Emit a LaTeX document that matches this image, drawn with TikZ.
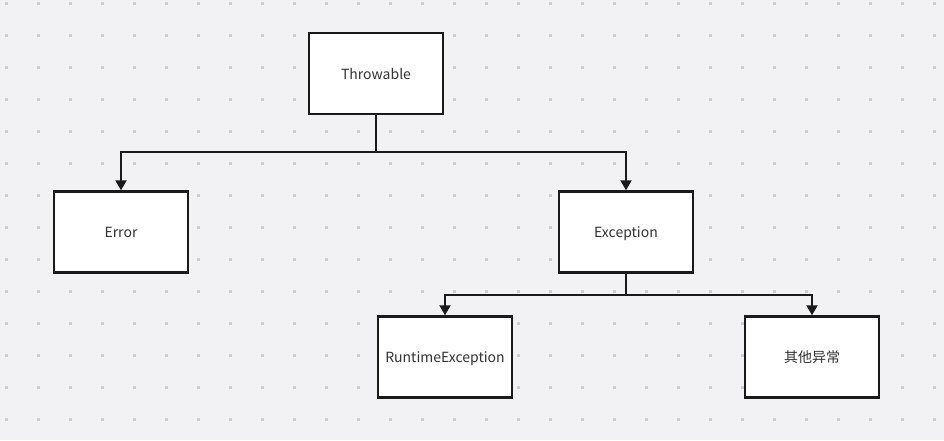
\documentclass[tikz,border=0pt]{standalone}
\usepackage{fontspec}
\setmainfont{Noto Sans CJK SC}
\usetikzlibrary{arrows.meta}
\definecolor{bgcol}{HTML}{F2F2F5}
\definecolor{dotcol}{HTML}{CFCFD3}
\definecolor{txtcol}{HTML}{333333}
\definecolor{linecol}{HTML}{1A1A1A}
\begin{document}
\begin{tikzpicture}[x=1pt, y=-1pt,
  box/.style={draw=linecol, line width=2.4pt, fill=white, minimum width=134pt, minimum height=81pt, text height=12pt, text depth=1pt, text=txtcol, font=\fontsize{14}{16}\selectfont},
  link/.style={draw=linecol, line width=2pt, -{Triangle[width=11pt,length=10pt]}}]
\fill[bgcol] (0,0) rectangle (944,440);
\useasboundingbox (0,0) rectangle (944,440);
\foreach \i in {0,...,29}
  \foreach \j in {0,...,13}
    \fill[dotcol] (6+32*\i-1.5,3.3+32*\j-1.5) rectangle ++(3,3);
\node[box] (throwable) at (376,73.5){Throwable};
\node[box] (error) at (121,232){Error};
\node[box] (exception) at (626,232){Exception};
\node[box] (runtime) at (445,357){RuntimeException};
\node[box] (other) at (812,357){其他异常};
\draw[link](throwable.south) -- ++(0,37) -| (error.north);
\draw[link](throwable.south) -- ++(0,37) -| (exception.north);
\draw[link](exception.south) -- ++(0,21) -| (runtime.north);
\draw[link](exception.south) -- ++(0,21) -| (other.north);
\end{tikzpicture}
\end{document}
